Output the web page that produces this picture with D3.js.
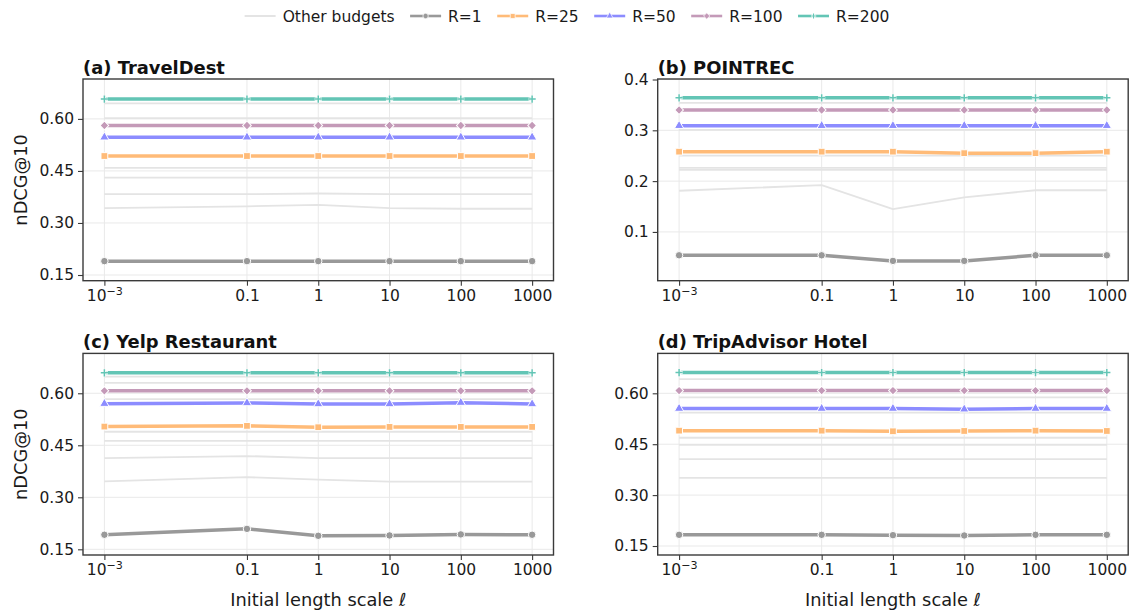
<!DOCTYPE html>
<html><head><meta charset="utf-8">
<script src="https://cdn.jsdelivr.net/npm/d3@7"></script>
<style>
body{margin:0;background:#fff;}
svg{display:block;font-family:"DejaVu Sans",sans-serif;}
</style>
</head><body>
<svg id="chart" width="1132" height="614"></svg>
<script>
// ---------------- data ----------------
const lengthScales = [0.001, 0.1, 1, 10, 100, 1000];
const xTickLabels = ["10^{−3}", "0.1", "1", "10", "100", "1000"];
const seriesNames = ["R=1", "R=25", "R=50", "R=100", "R=200"];
const seriesColors = ["#999999", "#ffbb78", "#8c8cff", "#c49ab8", "#63c5b5"];
const seriesMarkers = ["circle", "square", "triangle", "diamond", "plus"];
const otherLabel = "Other budgets";
const panelTitles = ["(a) TravelDest", "(b) POINTREC", "(c) Yelp Restaurant", "(d) TripAdvisor Hotel"];

// R=1, R=25, R=50, R=100, R=200
const travelDestSeries = [
  [0.190, 0.190, 0.190, 0.190, 0.190, 0.190],
  [0.493, 0.493, 0.493, 0.493, 0.493, 0.493],
  [0.547, 0.547, 0.547, 0.547, 0.547, 0.547],
  [0.581, 0.581, 0.581, 0.581, 0.581, 0.581],
  [0.657, 0.657, 0.657, 0.657, 0.657, 0.657]
];
const pointrecSeries = [
  [0.054, 0.054, 0.043, 0.043, 0.054, 0.054],
  [0.258, 0.258, 0.258, 0.255, 0.255, 0.258],
  [0.309, 0.309, 0.309, 0.309, 0.309, 0.309],
  [0.340, 0.340, 0.340, 0.340, 0.340, 0.340],
  [0.364, 0.364, 0.364, 0.364, 0.364, 0.364]
];
const yelpSeries = [
  [0.192, 0.209, 0.189, 0.190, 0.193, 0.192],
  [0.504, 0.506, 0.502, 0.503, 0.503, 0.503],
  [0.570, 0.572, 0.569, 0.569, 0.573, 0.569],
  [0.607, 0.607, 0.607, 0.607, 0.607, 0.607],
  [0.659, 0.659, 0.659, 0.659, 0.659, 0.659]
];
const tripAdvisorSeries = [
  [0.183, 0.183, 0.182, 0.181, 0.183, 0.183],
  [0.490, 0.490, 0.488, 0.489, 0.490, 0.489],
  [0.555, 0.555, 0.555, 0.553, 0.555, 0.555],
  [0.608, 0.608, 0.608, 0.608, 0.608, 0.608],
  [0.661, 0.661, 0.661, 0.661, 0.661, 0.661]
];

// other budgets (light grey lines)
const travelDestOthers = [
  [0.645, 0.645, 0.645, 0.645, 0.645, 0.645],
  [0.602, 0.602, 0.602, 0.602, 0.602, 0.602],
  [0.459, 0.459, 0.459, 0.459, 0.459, 0.459],
  [0.431, 0.431, 0.431, 0.431, 0.431, 0.431],
  [0.383, 0.383, 0.385, 0.383, 0.383, 0.383],
  [0.343, 0.348, 0.352, 0.343, 0.341, 0.341]
];
const pointrecOthers = [
  [0.354, 0.354, 0.354, 0.354, 0.354, 0.354],
  [0.301, 0.301, 0.301, 0.301, 0.301, 0.301],
  [0.250, 0.250, 0.250, 0.250, 0.250, 0.250],
  [0.226, 0.226, 0.226, 0.226, 0.226, 0.226],
  [0.222, 0.222, 0.222, 0.222, 0.222, 0.222],
  [0.181, 0.192, 0.145, 0.168, 0.182, 0.182]
];
const yelpOthers = [
  [0.648, 0.648, 0.648, 0.648, 0.648, 0.648],
  [0.630, 0.630, 0.630, 0.630, 0.630, 0.630],
  [0.583, 0.583, 0.583, 0.583, 0.583, 0.583],
  [0.489, 0.489, 0.489, 0.489, 0.489, 0.489],
  [0.463, 0.463, 0.463, 0.463, 0.463, 0.463],
  [0.413, 0.419, 0.413, 0.413, 0.413, 0.413],
  [0.346, 0.358, 0.351, 0.345, 0.345, 0.345]
];
const tripAdvisorOthers = [
  [0.642, 0.642, 0.642, 0.642, 0.642, 0.642],
  [0.588, 0.588, 0.588, 0.588, 0.588, 0.588],
  [0.543, 0.543, 0.543, 0.543, 0.543, 0.543],
  [0.469, 0.469, 0.469, 0.469, 0.469, 0.469],
  [0.448, 0.448, 0.448, 0.448, 0.448, 0.448],
  [0.406, 0.406, 0.406, 0.406, 0.406, 0.406],
  [0.351, 0.351, 0.351, 0.351, 0.351, 0.351]
];

const yTicksLarge = [0.15, 0.30, 0.45, 0.60];
const yTicksSmall = [0.1, 0.2, 0.3, 0.4];
const yLimTravelDest = [0.1336, 0.715];
const yLimPointrec = [0.004, 0.401];
const yLimYelp = [0.1336, 0.715];
const yLimTripAdvisor = [0.1235, 0.7176];
const yAxisLabel = "nDCG@10";
const xAxisLabel = "Initial length scale ";
const xAxisSymbol = "ℓ";

// ---------------- layout ----------------
const svg = d3.select("#chart");
const colX = [[83, 553.5], [657.7, 1128.2]];
const rowY = [[79, 280.7], [353.4, 555]];
const tickFont = 15.5, labelFont = 17.8, titleFont = 17.9, legendFont = 15.5;
const otherColor = "#e4e4e4", gridColor = "#e9e9e9", spineColor = "#3a3a3a";

const panels = [
  {title: panelTitles[0], series: travelDestSeries, others: travelDestOthers, ylim: yLimTravelDest, ticks: yTicksLarge, fmt: ".2f", col: 0, row: 0},
  {title: panelTitles[1], series: pointrecSeries, others: pointrecOthers, ylim: yLimPointrec, ticks: yTicksSmall, fmt: ".1f", col: 1, row: 0},
  {title: panelTitles[2], series: yelpSeries, others: yelpOthers, ylim: yLimYelp, ticks: yTicksLarge, fmt: ".2f", col: 0, row: 1},
  {title: panelTitles[3], series: tripAdvisorSeries, others: tripAdvisorOthers, ylim: yLimTripAdvisor, ticks: yTicksLarge, fmt: ".2f", col: 1, row: 1}
];

function markerPath(type, k) {
  if (type === "circle") return d3.symbol(d3.symbolCircle, 44 * k * k)();
  if (type === "square") return d3.symbol(d3.symbolSquare, 46 * k * k)();
  if (type === "triangle") return d3.symbol(d3.symbolTriangle, 38 * k * k)();
  if (type === "diamond") return d3.symbol(d3.symbolSquare, 38 * k * k)();
  const a = 3.6 * k;
  return `M${-a},0H${a}M0,${-a}V${a}`;
}
function drawMarker(g, type, color, x, y, k) {
  k = k || 1;
  const p = markerPath(type, k);
  if (type === "plus") {
    g.append("path").attr("d", p).attr("transform", `translate(${x},${y})`)
      .attr("stroke", "#fff").attr("stroke-width", 3.2 * k).attr("fill", "none");
    g.append("path").attr("d", p).attr("transform", `translate(${x},${y})`)
      .attr("stroke", color).attr("stroke-width", 1.5 * k).attr("fill", "none");
  } else {
    g.append("path").attr("d", p)
      .attr("transform", `translate(${x},${y})` + (type === "diamond" ? " rotate(45)" : ""))
      .attr("fill", color).attr("stroke", "#fff").attr("stroke-width", 1 * k);
  }
}

function setTickLabel(textSel) {
  textSel.each(function(d) {
    const lab = xTickLabels[lengthScales.indexOf(d)];
    const m = lab.match(/^(.*)\^\{(.*)\}$/);
    const t = d3.select(this);
    if (m) {
      t.text(null);
      t.append("tspan").text(m[1]);
      t.append("tspan").attr("dy", "-0.55em").attr("font-size", tickFont * 0.72 + "px").text(m[2]);
    } else {
      t.text(lab);
    }
  });
}

panels.forEach(p => {
  const [x0, x1] = colX[p.col];
  const [y0, y1] = rowY[p.row];
  const x = d3.scaleLog().domain([Math.pow(10, -3.3), Math.pow(10, 3.3)]).range([x0, x1]);
  const y = d3.scaleLinear().domain(p.ylim).range([y1, y0]);
  const g = svg.append("g");

  // grid
  g.append("g").selectAll("line").data(lengthScales).join("line")
    .attr("x1", d => x(d)).attr("x2", d => x(d)).attr("y1", y0).attr("y2", y1)
    .attr("stroke", gridColor).attr("stroke-width", 1);
  g.append("g").selectAll("line").data(p.ticks).join("line")
    .attr("x1", x0).attr("x2", x1).attr("y1", d => y(d)).attr("y2", d => y(d))
    .attr("stroke", gridColor).attr("stroke-width", 1);

  const line = d3.line().x((d, i) => x(lengthScales[i])).y(d => y(d));

  // other budgets
  g.append("g").selectAll("path").data(p.others).join("path")
    .attr("d", line).attr("fill", "none").attr("stroke", otherColor)
    .attr("stroke-width", 1.8).attr("stroke-linejoin", "round");

  // main series
  p.series.forEach((s, si) => {
    const sg = g.append("g");
    sg.append("path").attr("d", line(s)).attr("fill", "none")
      .attr("stroke", seriesColors[si]).attr("stroke-width", 3.5)
      .attr("stroke-linejoin", "round").attr("stroke-linecap", "butt");
    s.forEach((v, i) => drawMarker(sg, seriesMarkers[si], seriesColors[si], x(lengthScales[i]), y(v), 1));
  });

  // spines
  g.append("rect").attr("x", x0).attr("y", y0).attr("width", x1 - x0).attr("height", y1 - y0)
    .attr("fill", "none").attr("stroke", spineColor).attr("stroke-width", 1.4);

  // axes
  const xa = g.append("g").attr("transform", `translate(0,${y1})`)
    .call(d3.axisBottom(x).tickValues(lengthScales).tickSize(5).tickPadding(4));
  xa.select(".domain").remove();
  xa.selectAll(".tick line").attr("stroke", spineColor).attr("stroke-width", 1.1);
  xa.selectAll(".tick text").attr("font-size", tickFont + "px").attr("fill", "#1a1a1a")
    .attr("font-family", "DejaVu Sans").call(setTickLabel);

  const ya = g.append("g").attr("transform", `translate(${x0},0)`)
    .call(d3.axisLeft(y).tickValues(p.ticks).tickFormat(d3.format(p.fmt)).tickSize(5).tickPadding(4));
  ya.select(".domain").remove();
  ya.selectAll(".tick line").attr("stroke", spineColor).attr("stroke-width", 1.1);
  ya.selectAll(".tick text").attr("font-size", tickFont + "px").attr("fill", "#1a1a1a")
    .attr("font-family", "DejaVu Sans");

  // title
  g.append("text").attr("x", x0).attr("y", y0 - 5).attr("font-size", titleFont + "px")
    .attr("font-weight", "bold").attr("fill", "#111").text(p.title);

  if (p.col === 0) {
    g.append("text").attr("transform", `translate(27,${(y0 + y1) / 2}) rotate(-90)`)
      .attr("text-anchor", "middle").attr("font-size", labelFont + "px").attr("fill", "#1a1a1a")
      .text(yAxisLabel);
  }
  if (p.row === 1) {
    const t = g.append("text").attr("x", (x0 + x1) / 2).attr("y", y1 + 51)
      .attr("text-anchor", "middle").attr("font-size", labelFont + "px").attr("fill", "#1a1a1a");
    t.append("tspan").text(xAxisLabel);
    t.append("tspan").attr("font-style", "italic").text(xAxisSymbol);
  }
});

// ---------------- legend ----------------
const leg = svg.append("g");
const legY = 16, handleLen = 31, handleGap = 7, entryGap = 15.5;
const entries = [{name: otherLabel, other: true}].concat(seriesNames.map((n, i) => ({name: n, idx: i})));
let cx = 0;
entries.forEach(e => {
  const it = leg.append("g");
  if (e.other) {
    it.append("line").attr("x1", 0).attr("x2", handleLen).attr("y1", legY).attr("y2", legY)
      .attr("stroke", otherColor).attr("stroke-width", 2);
  } else {
    it.append("line").attr("x1", 0).attr("x2", handleLen).attr("y1", legY).attr("y2", legY)
      .attr("stroke", seriesColors[e.idx]).attr("stroke-width", 2.6);
    drawMarker(it, seriesMarkers[e.idx], seriesColors[e.idx], handleLen / 2, legY, 0.72);
  }
  const t = it.append("text").attr("x", handleLen + handleGap).attr("y", legY)
    .attr("dy", "0.36em").attr("font-size", legendFont + "px").attr("fill", "#1a1a1a").text(e.name);
  const w = handleLen + handleGap + t.node().getComputedTextLength();
  it.attr("transform", `translate(${cx},0)`);
  cx += w + entryGap;
});
const totalW = cx - entryGap;
leg.attr("transform", `translate(${567 - totalW / 2},0)`);
</script>
</body></html>
